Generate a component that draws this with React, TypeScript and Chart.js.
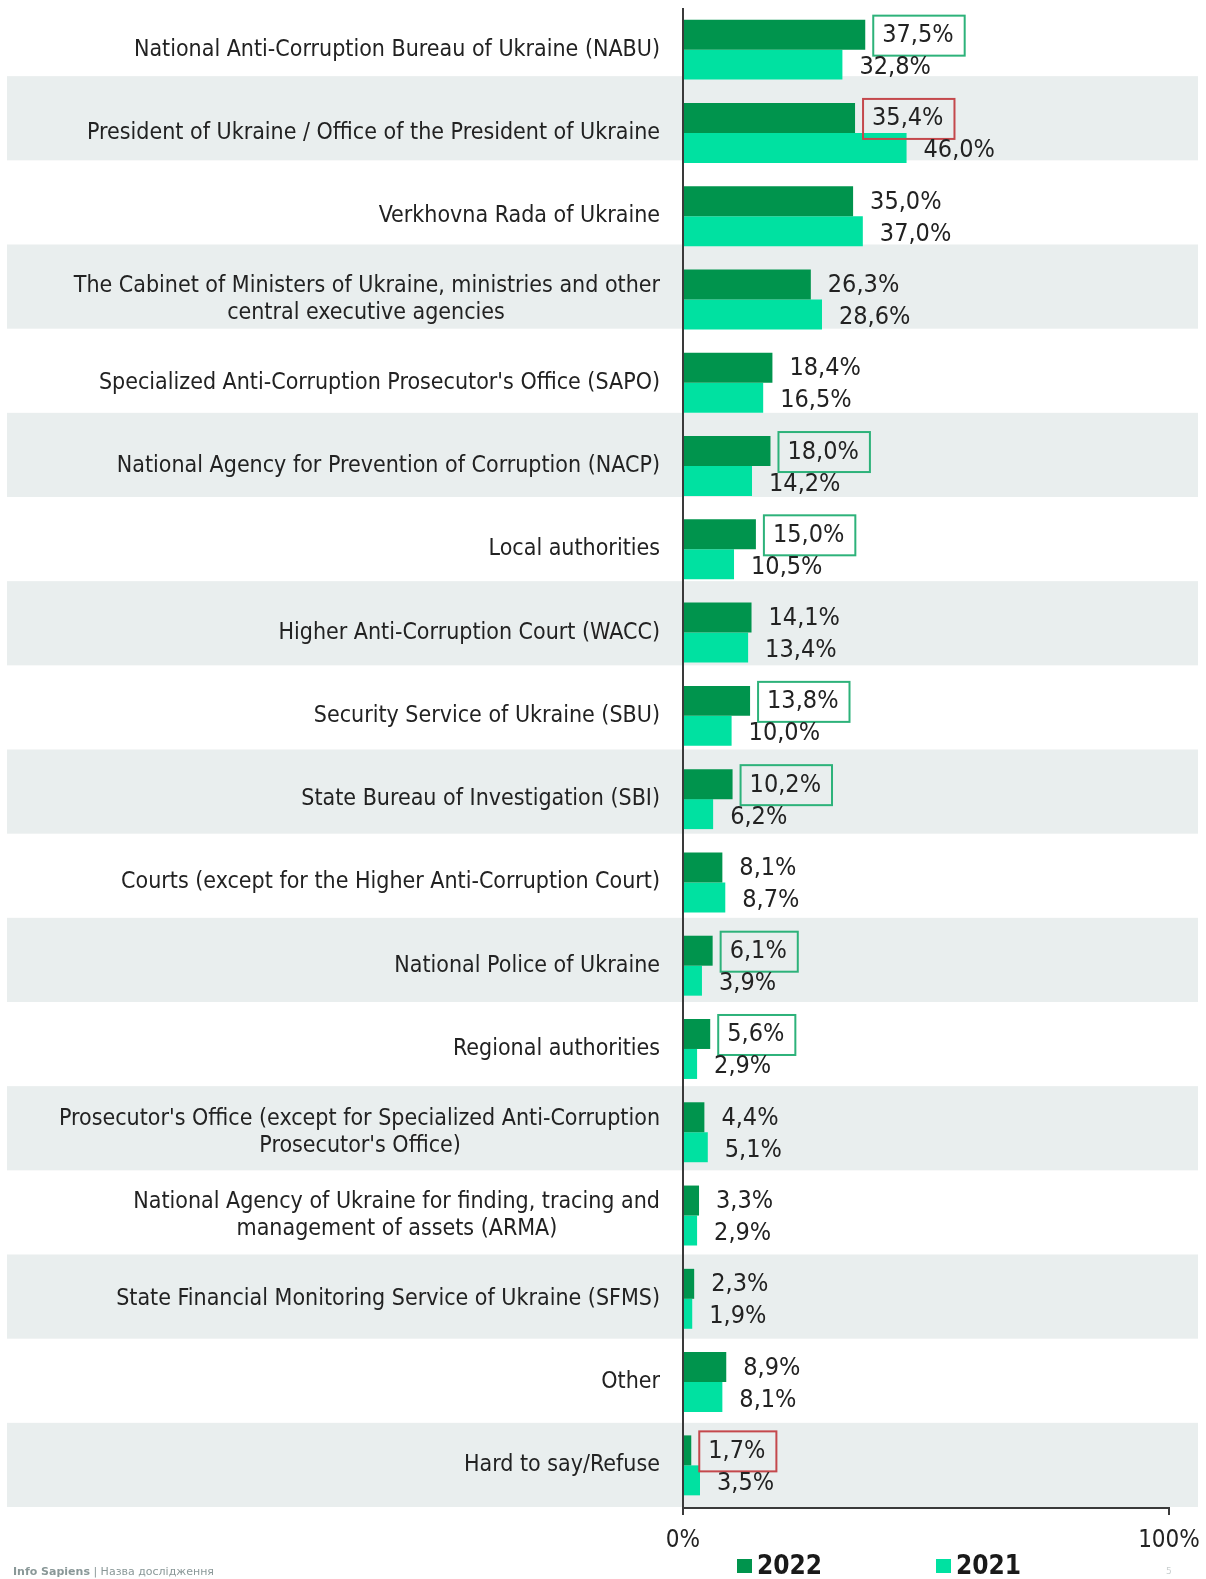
import React, { useEffect, useRef } from "react";
import { Chart, registerables } from "chart.js";

Chart.register(...registerables);

const categories: (string | string[])[] = [
  "National Anti-Corruption Bureau of Ukraine (NABU)",
  "President of Ukraine / Office of the President of Ukraine",
  "Verkhovna Rada of Ukraine",
  ["The Cabinet of Ministers of Ukraine, ministries and other", "central executive agencies"],
  "Specialized Anti-Corruption Prosecutor's Office (SAPO)",
  "National Agency for Prevention of Corruption (NACP)",
  "Local authorities",
  "Higher Anti-Corruption Court (WACC)",
  "Security Service of Ukraine (SBU)",
  "State Bureau of Investigation (SBI)",
  "Courts (except for the Higher Anti-Corruption Court)",
  "National Police of Ukraine",
  "Regional authorities",
  ["Prosecutor's Office (except for Specialized Anti-Corruption", "Prosecutor's Office)"],
  ["National Agency of Ukraine for finding, tracing and", "management of assets (ARMA)"],
  "State Financial Monitoring Service of Ukraine (SFMS)",
  "Other",
  "Hard to say/Refuse",
];

const values2022 = [37.5, 35.4, 35.0, 26.3, 18.4, 18.0, 15.0, 14.1, 13.8, 10.2, 8.1, 6.1, 5.6, 4.4, 3.3, 2.3, 8.9, 1.7];
const values2021 = [32.8, 46.0, 37.0, 28.6, 16.5, 14.2, 10.5, 13.4, 10.0, 6.2, 8.7, 3.9, 2.9, 5.1, 2.9, 1.9, 8.1, 3.5];

// highlight boxes around 2022 labels: "up" = green, "down" = red, "" = none
const highlight2022 = ["up", "down", "", "", "", "up", "up", "", "up", "up", "", "up", "up", "", "", "", "", "down"];

const seriesNames = ["2022", "2021"];
const xTickValues = [0, 100];

const FONT = '"DejaVu Sans Condensed", "DejaVu Sans", sans-serif';
const TEXT = "#222222";
const DARK = "#00944d";
const LIGHT = "#00e1a1";
const Y_FONT_SIZE = 23;

const fmt = (v: number) => v.toFixed(1).replace(".", ",") + "%";

// center the lines of a multi-line label within its (right-aligned) block,
// by padding shorter lines with trailing spaces
let measureCtx: CanvasRenderingContext2D | null = null;
function centerLines(label: string | string[]): string | string[] {
  if (!Array.isArray(label)) return label;
  if (!measureCtx) measureCtx = document.createElement("canvas").getContext("2d");
  const m = measureCtx!;
  m.font = `${Y_FONT_SIZE}px ${FONT}`;
  const widths = label.map((l) => m.measureText(l).width);
  const maxW = Math.max(...widths);
  const sp = m.measureText(" ").width;
  const hair = m.measureText("\u200A").width || 0;
  return label.map((l, i) => {
    let gap = (maxW - widths[i]) / 2;
    const n = Math.floor(gap / sp);
    gap -= n * sp;
    let extra = "";
    if (hair > 0) extra = "\u200A".repeat(Math.round(gap / hair));
    return l + " ".repeat(n) + extra;
  });
}

const bandsPlugin = {
  id: "bands",
  beforeDraw(chart: any) {
    const { ctx, chartArea } = chart;
    const n = categories.length;
    const bandH = (chartArea.bottom - chartArea.top + 16) / n;
    ctx.save();
    ctx.fillStyle = "#e9eeee";
    for (let k = 0; k < n; k++) {
      if (k % 2 === 1) {
        const top = chartArea.bottom - (n - k) * bandH;
        ctx.fillRect(7, top, 1191, bandH);
      }
    }
    ctx.restore();
  },
};

const overlayPlugin = {
  id: "overlay",
  afterDatasetsDraw(chart: any) {
    const { ctx, chartArea } = chart;
    ctx.save();
    // value labels
    ctx.font = `25px ${FONT}`;
    ctx.textBaseline = "middle";
    ctx.textAlign = "left";
    chart.data.datasets.forEach((ds: any, di: number) => {
      const meta = chart.getDatasetMeta(di);
      meta.data.forEach((bar: any, j: number) => {
        const txt = fmt(ds.data[j]);
        const tx = bar.x + 17;
        const ty = bar.y + (di === 1 ? 3 : 1);
        ctx.fillStyle = TEXT;
        ctx.fillText(txt, tx, ty);
        if (di === 0 && highlight2022[j]) {
          const w = ctx.measureText(txt).width;
          ctx.strokeStyle = highlight2022[j] === "up" ? "#2db27a" : "#c4484c";
          ctx.lineWidth = 2;
          ctx.strokeRect(tx - 9, ty - 20, w + 20, 40);
        }
      });
    });
    // axes lines
    ctx.strokeStyle = "#3a3a3a";
    ctx.lineWidth = 2;
    const x0 = chart.scales.x.getPixelForValue(0);
    const x1 = chart.scales.x.getPixelForValue(100);
    const yb = chartArea.bottom + 1;
    ctx.beginPath();
    ctx.moveTo(x0, chartArea.top);
    ctx.lineTo(x0, yb + 7);
    ctx.moveTo(x0, yb);
    ctx.lineTo(x1, yb);
    ctx.lineTo(x1, yb + 7);
    ctx.stroke();

    // legend
    const ly = chartArea.bottom + 59;
    let lx = chartArea.left + 54;
    chart.data.datasets.forEach((ds: any) => {
      ctx.fillStyle = ds.backgroundColor;
      ctx.fillRect(lx, ly - 7, 15, 14);
      ctx.fillStyle = "#1a1a1a";
      ctx.font = `bold 26px ${FONT}`;
      ctx.textBaseline = "middle";
      ctx.fillText(ds.label, lx + 20, ly + 1);
      lx += 199;
    });

    // footer
    ctx.font = "bold 11px \"DejaVu Sans\", sans-serif";
    ctx.fillStyle = "#8a9898";
    ctx.fillText("Info Sapiens", 13, 1572);
    const w1 = ctx.measureText("Info Sapiens").width;
    ctx.font = "11px \"DejaVu Sans\", sans-serif";
    ctx.fillText(" | Назва дослідження", 13 + w1, 1572);
    ctx.fillStyle = "#c9cfcf";
    ctx.font = "9px \"DejaVu Sans\", sans-serif";
    ctx.fillText("5", 1166, 1572);
    ctx.restore();
  },
};

export default function App() {
  const ref = useRef<HTMLCanvasElement | null>(null);
  useEffect(() => {
    if (!ref.current) return;
    const chart = new Chart(ref.current, {
      type: "bar",
      data: {
        labels: categories,
        datasets: [
          { label: seriesNames[0], data: values2022, backgroundColor: DARK, categoryPercentage: 0.72, barPercentage: 1.0 },
          { label: seriesNames[1], data: values2021, backgroundColor: LIGHT, categoryPercentage: 0.72, barPercentage: 1.0 },
        ],
      },
      options: {
        indexAxis: "y",
        animation: false,
        responsive: false,
        maintainAspectRatio: false,
        layout: { padding: { top: 8, right: 37, left: 0, bottom: 0 } },
        plugins: { legend: { display: false }, tooltip: { enabled: false } },
        scales: {
          y: {
            type: "category",
            grid: { display: false, drawTicks: false },
            border: { display: false },
            ticks: {
              color: TEXT,
              padding: 23,
              font: { family: FONT, size: Y_FONT_SIZE, lineHeight: 1.17 },
              autoSkip: false,
              callback: (_v: any, i: number) => centerLines(categories[i]),
            },
            afterFit: (s: any) => {
              s.width = 683;
              s.paddingTop = 0;
              s.paddingBottom = 0;
            },
          },
          x: {
            type: "linear",
            min: 0,
            max: 100,
            grid: { display: false, drawTicks: false },
            border: { display: false },
            afterBuildTicks: (s: any) => {
              s.ticks = xTickValues.map((v) => ({ value: v }));
            },
            ticks: {
              color: TEXT,
              padding: 19,
              font: { family: FONT, size: 24 },
              callback: (v: any) => v + "%",
            },
            afterFit: (s: any) => {
              s.height = 72;
              s.paddingLeft = 0;
              s.paddingRight = 0;
            },
          },
        },
      },
      plugins: [bandsPlugin, overlayPlugin],
    });
    return () => chart.destroy();
  }, []);
  return (
    <div style={{ position: "absolute", left: 0, top: 0, width: 1206, height: 1579, background: "#ffffff" }}>
      <canvas ref={ref} width={1206} height={1579} style={{ display: "block", width: 1206, height: 1579 }} />
    </div>
  );
}
